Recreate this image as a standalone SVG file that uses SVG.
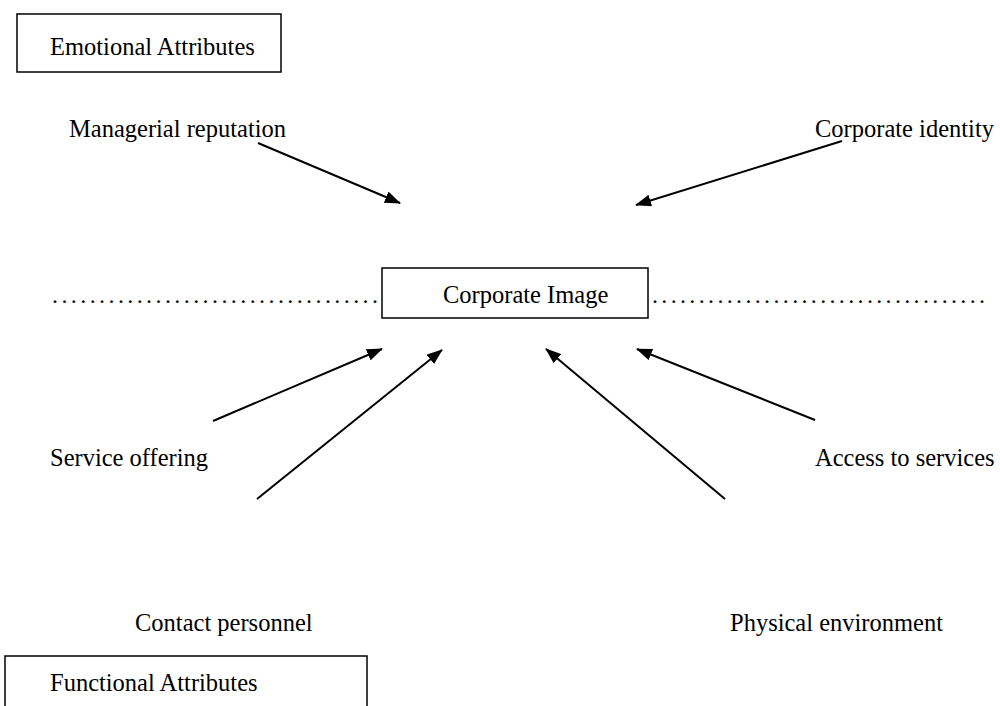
<svg xmlns="http://www.w3.org/2000/svg" width="1000" height="706" viewBox="0 0 1000 706">
  <style>
    .lbl { font-family: "Liberation Serif", "Times New Roman", serif; font-size: 24.5px; fill: #000; }
    .dots { font-family: "Liberation Serif", "Times New Roman", serif; font-size: 24px; fill: #000; }
    .box { fill: #fff; stroke: #000; stroke-width: 1.5; }
    .conn { stroke: #000; stroke-width: 2; marker-end: url(#tip); }
  </style>
  <defs>
    <marker id="tip" viewBox="0 0 16 12" refX="15" refY="6" markerWidth="16" markerHeight="12" markerUnits="userSpaceOnUse" orient="auto">
      <path d="M0,0 L16,6 L0,12 z" fill="#000"/>
    </marker>
  </defs>
  <rect width="1000" height="706" fill="#fff"/>

  <g id="emotional-attributes">
    <rect class="box" x="17" y="14" width="264" height="58"/>
    <text class="lbl" x="50" y="55">Emotional Attributes</text>
  </g>

  <g id="managerial-reputation">
    <text class="lbl" x="69" y="137">Managerial reputation</text>
  </g>

  <g id="corporate-identity">
    <text class="lbl" x="815" y="137">Corporate identity</text>
  </g>

  <g id="corporate-image">
    <rect class="box" x="382" y="268" width="266" height="50"/>
    <text class="lbl" x="443" y="303">Corporate Image</text>
  </g>

  <g id="divider">
    <text class="dots" x="52" y="303" textLength="326" lengthAdjust="spacing">...................................</text>
    <text class="dots" x="652" y="303" textLength="333" lengthAdjust="spacing">....................................</text>
  </g>

  <g id="service-offering">
    <text class="lbl" x="50" y="466">Service offering</text>
  </g>

  <g id="access-to-services">
    <text class="lbl" x="815" y="466">Access to services</text>
  </g>

  <g id="contact-personnel">
    <text class="lbl" x="135" y="631">Contact personnel</text>
  </g>

  <g id="physical-environment">
    <text class="lbl" x="730" y="631">Physical environment</text>
  </g>

  <g id="functional-attributes">
    <rect class="box" x="5" y="656" width="362" height="60"/>
    <text class="lbl" x="50" y="691">Functional Attributes</text>
  </g>

  <g id="connectors">
    <line class="conn" x1="258" y1="143" x2="400" y2="203"/>
    <line class="conn" x1="842" y1="141" x2="636" y2="205"/>
    <line class="conn" x1="213" y1="421" x2="382" y2="349"/>
    <line class="conn" x1="257" y1="499" x2="442" y2="350"/>
    <line class="conn" x1="725" y1="499" x2="546" y2="349"/>
    <line class="conn" x1="815" y1="420" x2="637" y2="349"/>
  </g>
</svg>
